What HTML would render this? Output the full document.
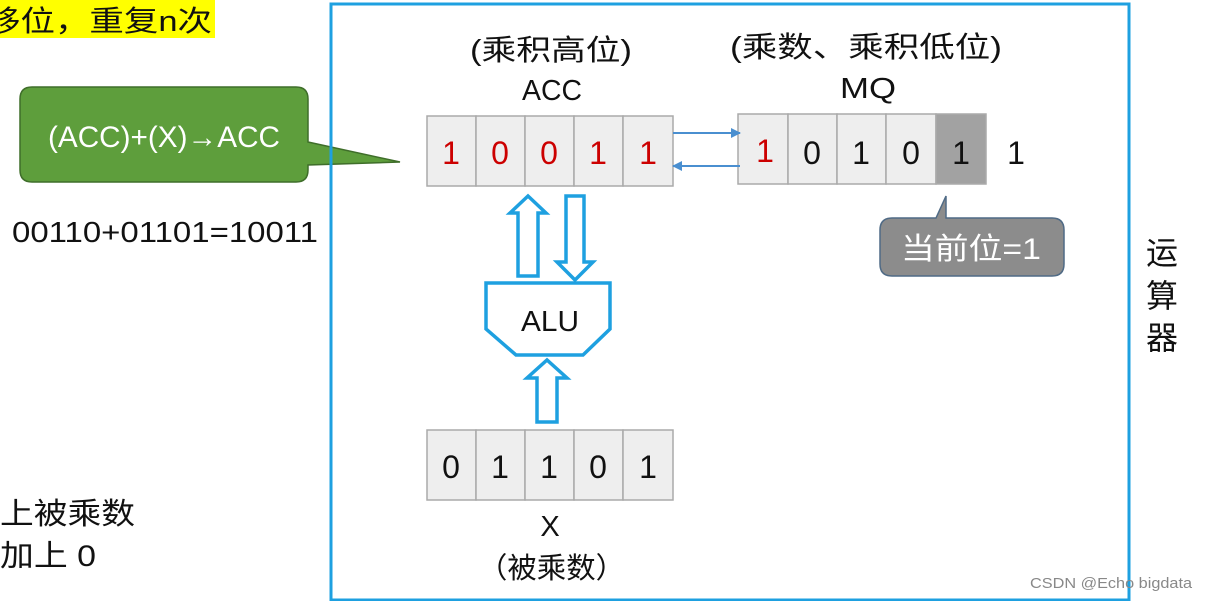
<!DOCTYPE html>
<html><head><meta charset="utf-8"><style>
html,body{margin:0;padding:0;background:#fff;}
svg{display:block;}
text{font-family:"Liberation Sans","Noto Sans CJK SC",sans-serif;}
</style></head><body>
<svg width="1206" height="601" viewBox="0 0 1206 601" xmlns="http://www.w3.org/2000/svg">
<defs>
<marker id="ah" markerWidth="10" markerHeight="10" refX="9" refY="5" orient="auto" markerUnits="userSpaceOnUse"><path d="M0,0 L10,5 L0,10 z" fill="#4a8fd0"/></marker>
</defs>
<rect x="0" y="0" width="215" height="38" fill="#ffff00"/>
<text x="-14" y="31" font-size="29" fill="#111" textLength="226" lengthAdjust="spacingAndGlyphs">移位，重复n次</text>
<path d="M32,87 H296 Q308,87 308,99 V142 L400,162 L308,165 V170 Q308,182 296,182 H32 Q20,182 20,170 V99 Q20,87 32,87 Z" fill="#5e9e3c" stroke="#3f6e2a" stroke-width="1.5"/>
<text x="48" y="147" font-size="30" fill="#fff" textLength="232" lengthAdjust="spacingAndGlyphs">(ACC)+(X)→ACC</text>
<text x="12" y="242" font-size="29" fill="#111" textLength="306" lengthAdjust="spacingAndGlyphs">00110+01101=10011</text>
<text x="0" y="524" font-size="30" fill="#111" textLength="135" lengthAdjust="spacingAndGlyphs">上被乘数</text>
<text x="0" y="566" font-size="30" fill="#111" textLength="96" lengthAdjust="spacingAndGlyphs">加上 0</text>
<rect x="331" y="4" width="798" height="596" fill="none" stroke="#1ea0e0" stroke-width="3"/>
<text x="470" y="60" font-size="29" fill="#111" textLength="162" lengthAdjust="spacingAndGlyphs">(乘积高位)</text>
<text x="522" y="100" font-size="29" fill="#111" textLength="60" lengthAdjust="spacingAndGlyphs">ACC</text>
<text x="730" y="57" font-size="29" fill="#111" textLength="272" lengthAdjust="spacingAndGlyphs">(乘数、乘积低位)</text>
<text x="840" y="98" font-size="29" fill="#111" textLength="56" lengthAdjust="spacingAndGlyphs">MQ</text>
<g stroke="#aaa" stroke-width="1.5" fill="#eeeeee">
<rect x="427" y="116" width="49" height="70"/><rect x="476" y="116" width="49" height="70"/><rect x="525" y="116" width="49" height="70"/><rect x="574" y="116" width="49" height="70"/><rect x="623" y="116" width="50" height="70"/>
<rect x="738" y="114" width="50" height="70"/><rect x="788" y="114" width="49" height="70"/><rect x="837" y="114" width="49" height="70"/><rect x="886" y="114" width="50" height="70"/>
<rect x="936" y="114" width="50" height="70" fill="#a2a2a2"/>
<rect x="427" y="430" width="49" height="70"/><rect x="476" y="430" width="49" height="70"/><rect x="525" y="430" width="49" height="70"/><rect x="574" y="430" width="49" height="70"/><rect x="623" y="430" width="50" height="70"/>
</g>
<g font-size="32" text-anchor="middle" fill="#cc0000">
<text x="451" y="164">1</text><text x="500" y="164">0</text><text x="549" y="164">0</text><text x="598" y="164">1</text><text x="648" y="164">1</text>
<text x="765" y="162">1</text>
</g>
<g font-size="32" text-anchor="middle" fill="#111">
<text x="812" y="164">0</text><text x="861" y="164">1</text><text x="911" y="164">0</text><text x="961" y="164">1</text><text x="1016" y="164">1</text>
<text x="451" y="478">0</text><text x="500" y="478">1</text><text x="549" y="478">1</text><text x="598" y="478">0</text><text x="648" y="478">1</text>
</g>
<line x1="673" y1="133" x2="740" y2="133" stroke="#4a8fd0" stroke-width="2" marker-end="url(#ah)"/>
<line x1="740" y1="166" x2="673" y2="166" stroke="#4a8fd0" stroke-width="2" marker-end="url(#ah)"/>
<g fill="#fff" stroke="#1ea0e0" stroke-width="3.5">
<path d="M518,276 V213 H510 L528,196 L546,213 H538 V276 Z"/>
<path d="M566,196 V262 H557 L575,280 L593,262 H584 V196 Z"/>
<path d="M537,422 V378 H527 L547,360 L567,378 H557 V422 Z"/>
<path d="M486,283 H610 V329 L583,355 H516 L486,329 Z"/>
</g>
<text x="521" y="331" font-size="29" fill="#111" textLength="58" lengthAdjust="spacingAndGlyphs">ALU</text>
<text x="550" y="536" font-size="29" fill="#111" text-anchor="middle">X</text>
<text x="478" y="578" font-size="29" fill="#111" textLength="147" lengthAdjust="spacingAndGlyphs">（被乘数）</text>
<path d="M892,218 H936 L946,196 L946,218 H1052 Q1064,218 1064,230 V264 Q1064,276 1052,276 H892 Q880,276 880,264 V230 Q880,218 892,218 Z" fill="#8c8c8c" stroke="#4f6a85" stroke-width="1.5"/>
<text x="901" y="259" font-size="30" fill="#fff" textLength="140" lengthAdjust="spacingAndGlyphs">当前位=1</text>
<g font-size="32" fill="#111" text-anchor="middle">
<text x="1162" y="264">运</text><text x="1162" y="307">算</text><text x="1162" y="349">器</text>
</g>
<text x="1030" y="588" font-size="15" fill="#888" textLength="162" lengthAdjust="spacingAndGlyphs">CSDN @Echo bigdata</text>
</svg>
</body></html>
